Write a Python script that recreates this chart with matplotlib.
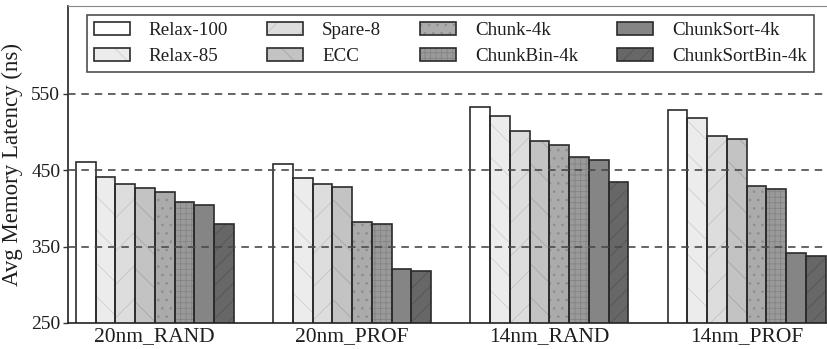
import matplotlib
matplotlib.use("Agg")
import matplotlib.pyplot as plt
from matplotlib.patches import Patch
from matplotlib.legend_handler import HandlerTuple
import numpy as np

plt.rcParams["font.family"] = ["Liberation Serif", "DejaVu Serif"]
plt.rcParams["hatch.linewidth"] = 0.6

# data
groups = ["20nm_RAND", "20nm_PROF", "14nm_RAND", "14nm_PROF"]
series = ["Relax-100", "Relax-85", "Spare-8", "ECC",
          "Chunk-4k", "ChunkBin-4k", "ChunkSort-4k", "ChunkSortBin-4k"]
relax_100 = [461, 458, 533, 529]
relax_85 = [441, 440, 521, 518]
spare_8 = [432, 432, 502, 495]
ecc = [427, 428, 488, 491]
chunk_4k = [421, 382, 483, 429]
chunkbin_4k = [409, 380, 467, 425]
chunksort_4k = [405, 321, 463, 341]
chunksortbin_4k = [380, 318, 434, 338]
values = [relax_100, relax_85, spare_8, ecc,
          chunk_4k, chunkbin_4k, chunksort_4k, chunksortbin_4k]
yticks = [250, 350, 450, 550]

# styles per series: fill, hatch, hatch colour
fills = ["#ffffff", "#ececec", "#dddddd", "#c3c3c3",
         "#ababab", "#9a9a9a", "#858585", "#676767"]
hatches = ["", "\\", "/", "\\", "..", "+++", "", "//"]
hatch_cols = ["#ffffff", "#d0d0d0", "#c2c2c2", "#a6a6a6",
              "#8c8c8c", "#848484", "#858585", "#555555"]
edge = "#2b2b2b"

fig = plt.figure(figsize=(8.27, 3.49), dpi=100)
ax = fig.add_axes([0.0822, 0.0745, 0.9173, 0.9083])

gap = 10
handles = []
for j, (name, vals) in enumerate(zip(series, values)):
    x = np.arange(len(groups)) * gap + j
    # fill + faint hatch first, then the dark outline on top
    ax.bar(x, vals, width=1.0, color=fills[j], hatch=hatches[j],
           edgecolor=hatch_cols[j], linewidth=0, zorder=2)
    ax.bar(x, vals, width=1.0, fill=False, edgecolor=edge,
           linewidth=1.2, zorder=2.5)
    h1 = Patch(facecolor=fills[j], hatch=hatches[j], edgecolor=hatch_cols[j], linewidth=0)
    h2 = Patch(fill=False, edgecolor=edge, linewidth=1.2)
    handles.append((h1, h2))

for yv in yticks[1:]:
    ax.axhline(yv, color="#4a4a4a", linewidth=1.2, linestyle=(0, (4.5, 3.5)), zorder=3)

ax.set_ylim(250, 665)
ax.set_xlim(-0.9, 37.55)
ax.set_yticks(yticks)
ax.set_xticks(np.arange(len(groups)) * gap + 3.5)
ax.set_xticklabels(groups, fontsize=15.5, color="#1e1e1e")
ax.tick_params(axis="x", length=0, pad=3)
ax.tick_params(axis="y", length=3.5, width=1.0, direction="out",
               labelsize=14, labelcolor="#1e1e1e", color="#333333", pad=2)
ax.set_ylabel("Avg Memory Latency (ns)", fontsize=16.5, color="#1e1e1e", labelpad=6)

ax.spines["top"].set_color("#888888")
ax.spines["right"].set_visible(False)
for s in ["left", "bottom"]:
    ax.spines[s].set_color("#222222")
    ax.spines[s].set_linewidth(1.2)

leg = ax.legend(handles, series, ncol=4, loc="upper left",
                bbox_to_anchor=(0.025, 0.779, 0.958, 0.1926), mode="expand",
                borderaxespad=0, fontsize=13.7, frameon=True, fancybox=False,
                handlelength=1.9, handleheight=0.7, handletextpad=1.0,
                labelspacing=0.45, borderpad=0.35,
                handler_map={tuple: HandlerTuple(ndivide=1, pad=0)})
leg.get_frame().set_edgecolor("#222222")
leg.get_frame().set_linewidth(1.2)
for t in leg.get_texts():
    t.set_color("#1e1e1e")
leg.set_zorder(5)

fig.savefig("out.png", dpi=100)
